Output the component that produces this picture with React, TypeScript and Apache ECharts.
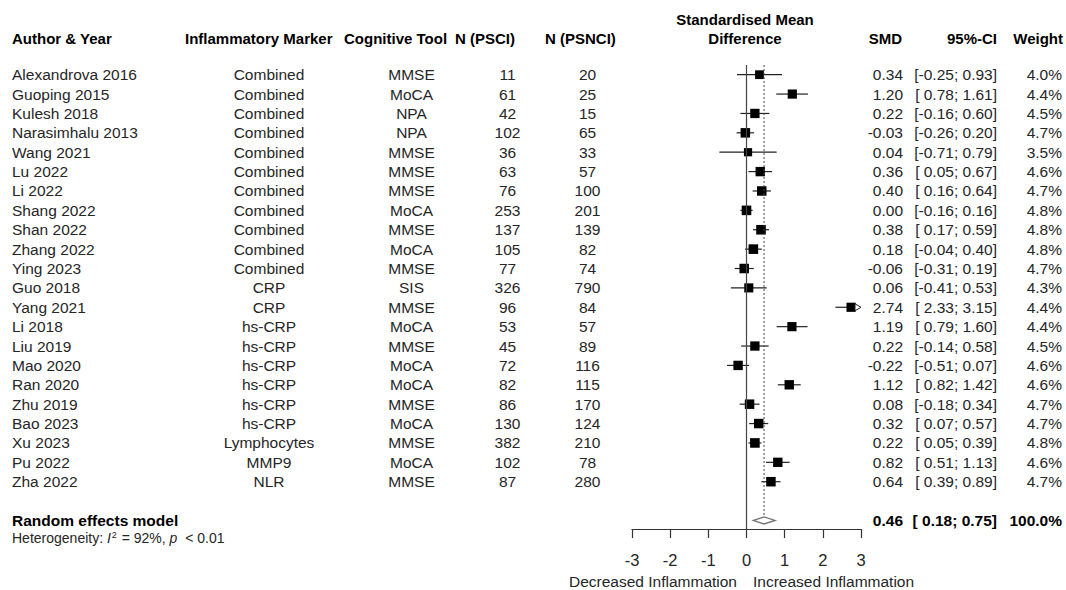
import React, { useEffect, useRef } from 'react';
import * as echarts from 'echarts';

// ---------- data ----------
const authors = [
  'Alexandrova 2016', 'Guoping 2015', 'Kulesh 2018', 'Narasimhalu 2013', 'Wang 2021', 'Lu 2022',
  'Li 2022', 'Shang 2022', 'Shan 2022', 'Zhang 2022', 'Ying 2023', 'Guo 2018', 'Yang 2021',
  'Li 2018', 'Liu 2019', 'Mao 2020', 'Ran 2020', 'Zhu 2019', 'Bao 2023', 'Xu 2023', 'Pu 2022', 'Zha 2022',
];
const markers = [
  'Combined', 'Combined', 'Combined', 'Combined', 'Combined', 'Combined', 'Combined', 'Combined',
  'Combined', 'Combined', 'Combined', 'CRP', 'CRP', 'hs-CRP', 'hs-CRP', 'hs-CRP', 'hs-CRP', 'hs-CRP',
  'hs-CRP', 'Lymphocytes', 'MMP9', 'NLR',
];
const tools = [
  'MMSE', 'MoCA', 'NPA', 'NPA', 'MMSE', 'MMSE', 'MMSE', 'MoCA', 'MMSE', 'MoCA', 'MMSE', 'SIS', 'MMSE',
  'MoCA', 'MMSE', 'MoCA', 'MoCA', 'MMSE', 'MoCA', 'MMSE', 'MoCA', 'MMSE',
];
const nPSCI = [11, 61, 42, 102, 36, 63, 76, 253, 137, 105, 77, 326, 96, 53, 45, 72, 82, 86, 130, 382, 102, 87];
const nPSNCI = [20, 25, 15, 65, 33, 57, 100, 201, 139, 82, 74, 790, 84, 57, 89, 116, 115, 170, 124, 210, 78, 280];
const smd = [0.34, 1.2, 0.22, -0.03, 0.04, 0.36, 0.4, 0.0, 0.38, 0.18, -0.06, 0.06, 2.74, 1.19, 0.22, -0.22, 1.12, 0.08, 0.32, 0.22, 0.82, 0.64];
const ciLow = [-0.25, 0.78, -0.16, -0.26, -0.71, 0.05, 0.16, -0.16, 0.17, -0.04, -0.31, -0.41, 2.33, 0.79, -0.14, -0.51, 0.82, -0.18, 0.07, 0.05, 0.51, 0.39];
const ciHigh = [0.93, 1.61, 0.6, 0.2, 0.79, 0.67, 0.64, 0.16, 0.59, 0.4, 0.19, 0.53, 3.15, 1.6, 0.58, 0.07, 1.42, 0.34, 0.57, 0.39, 1.13, 0.89];
const weights = [4.0, 4.4, 4.5, 4.7, 3.5, 4.6, 4.7, 4.8, 4.8, 4.8, 4.7, 4.3, 4.4, 4.4, 4.5, 4.6, 4.6, 4.7, 4.7, 4.8, 4.6, 4.7];
const pooledLabel = 'Random effects model';
const pooledSMD = 0.46;
const pooledLow = 0.18;
const pooledHigh = 0.75;
const pooledWeight = 100.0;
const heterogeneityI2 = 92;
const heterogeneityP = '< 0.01';
const xMin = -3;
const xMax = 3;
const leftLabel = 'Decreased Inflammation';
const rightLabel = 'Increased Inflammation';

// ---------- layout ----------
const FONT = '"Liberation Sans", Arial, Helvetica, sans-serif';
const ROW_TOP = -0.5;
const ROW_AXIS = 23.44;
const SUMMARY_ROW = authors.length + 1;
const TXT = '#262626';

const fmt = (v: number) => (v < 0 ? v.toFixed(2) : ' ' + v.toFixed(2));
const ciText = (lo: number, hi: number) => `[${fmt(lo)}; ${hi.toFixed(2)}]`;

type Item = { row: number; text: string; bold?: boolean };

function textSeries(name: string, x: number, align: 'left' | 'center' | 'right', items: Item[], size = 15.5) {
  return {
    type: 'custom',
    name,
    xAxisIndex: 1,
    yAxisIndex: 1,
    silent: true,
    data: items.map((it) => [x, it.row]),
    renderItem: (params: any, api: any) => {
      const it = items[params.dataIndex];
      const p = api.coord([api.value(0), api.value(1)]);
      return {
        type: 'text',
        x: p[0],
        y: p[1],
        style: {
          text: it.text,
          font: `${it.bold ? 'bold ' : ''}${size}px ${FONT}`,
          fill: it.bold ? '#000' : TXT,
          align,
          verticalAlign: 'middle',
          textAlign: align,
          textVerticalAlign: 'middle',
        },
      };
    },
  };
}

const rows = authors.map((_, i) => i);

function buildOption() {
  const studyCol = (arr: (string | number)[]): Item[] => rows.map((i) => ({ row: i, text: String(arr[i]) }));

  const series: any[] = [
    // vertical null line
    {
      type: 'line',
      xAxisIndex: 0,
      yAxisIndex: 0,
      data: [[0, ROW_TOP], [0, ROW_AXIS]],
      symbol: 'none',
      silent: true,
      lineStyle: { color: '#444', width: 1.2 },
    },
    // pooled dotted line
    {
      type: 'line',
      xAxisIndex: 0,
      yAxisIndex: 0,
      data: [[pooledSMD, ROW_TOP], [pooledSMD, SUMMARY_ROW - 0.2]],
      symbol: 'none',
      silent: true,
      lineStyle: { color: '#444', width: 1, type: [2, 2] },
    },
    // studies
    {
      type: 'custom',
      xAxisIndex: 0,
      yAxisIndex: 0,
      silent: true,
      data: rows.map((i) => [smd[i], i, ciLow[i], ciHigh[i], weights[i]]),
      encode: { x: [0, 2, 3], y: 1 },
      renderItem: (params: any, api: any) => {
        const x = api.value(0);
        const row = api.value(1);
        const lo = api.value(2);
        const hi = api.value(3);
        const w = api.value(4);
        const pc = api.coord([x, row]);
        const pl = api.coord([Math.max(lo, xMin), row]);
        const ph = api.coord([Math.min(hi, xMax), row]);
        const side = 9.6 * Math.sqrt(w / 4.8);
        const children: any[] = [
          {
            type: 'line',
            shape: { x1: pl[0], y1: pl[1], x2: hi > xMax ? ph[0] - 5 : ph[0], y2: ph[1] },
            style: { stroke: '#222', lineWidth: 1.2 },
          },
          {
            type: 'rect',
            shape: { x: pc[0] - side / 2, y: pc[1] - side / 2, width: side, height: side },
            style: { fill: '#000' },
          },
        ];
        if (hi > xMax) {
          children.push({
            type: 'polygon',
            shape: { points: [[ph[0], ph[1]], [ph[0] - 6, ph[1] - 3.5], [ph[0] - 6, ph[1] + 3.5]] },
            style: { fill: '#fff', stroke: '#222', lineWidth: 1 },
          });
        }
        return { type: 'group', children };
      },
    },
    // pooled diamond
    {
      type: 'custom',
      xAxisIndex: 0,
      yAxisIndex: 0,
      silent: true,
      data: [[pooledSMD, SUMMARY_ROW, pooledLow, pooledHigh]],
      encode: { x: [0, 2, 3], y: 1 },
      renderItem: (params: any, api: any) => {
        const row = api.value(1);
        const c = api.coord([api.value(0), row]);
        const l = api.coord([api.value(2), row]);
        const r = api.coord([api.value(3), row]);
        const h = 3.5;
        return {
          type: 'polygon',
          shape: { points: [[l[0], l[1]], [c[0], c[1] - h], [r[0], r[1]], [c[0], c[1] + h]] },
          style: { fill: '#fff', stroke: '#777', lineWidth: 1.3 },
        };
      },
    },
    textSeries('author', 12, 'left', [
      ...studyCol(authors),
      { row: SUMMARY_ROW, text: pooledLabel, bold: true },
    ]),
    textSeries('marker', 269, 'center', studyCol(markers)),
    textSeries('tool', 411.5, 'center', studyCol(tools)),
    textSeries('npsci', 507.5, 'center', studyCol(nPSCI)),
    textSeries('npsnci', 587.5, 'center', studyCol(nPSNCI)),
    textSeries('smd', 903, 'right', [
      ...rows.map((i) => ({ row: i, text: smd[i].toFixed(2) })),
      { row: SUMMARY_ROW, text: pooledSMD.toFixed(2), bold: true },
    ]),
    textSeries('ci', 997, 'right', [
      ...rows.map((i) => ({ row: i, text: ciText(ciLow[i], ciHigh[i]) })),
      { row: SUMMARY_ROW, text: ciText(pooledLow, pooledHigh), bold: true },
    ]),
    textSeries('weight', 1062, 'right', [
      ...rows.map((i) => ({ row: i, text: weights[i].toFixed(1) + '%' })),
      { row: SUMMARY_ROW, text: pooledWeight.toFixed(1) + '%', bold: true },
    ]),
  ];

  const hdr = (text: string, x: number, y: number, align: string) => ({
    type: 'text',
    x,
    y,
    silent: true,
    style: {
      text,
      font: `bold 15px ${FONT}`,
      fill: '#000',
      align,
      verticalAlign: 'middle',
      textAlign: align,
      textVerticalAlign: 'middle',
    },
  });

  const base = { fontSize: 14, fontFamily: 'Liberation Sans', fill: TXT };

  return {
    animation: false,
    backgroundColor: '#fff',
    grid: [
      { left: 632, width: 229, top: 65, height: 464, containLabel: false },
      { left: 0, width: 1066, top: 65, height: 464, containLabel: false },
    ],
    xAxis: [
      {
        type: 'value',
        gridIndex: 0,
        position: 'bottom',
        min: xMin,
        max: xMax,
        interval: 1,
        axisLine: { show: true, onZero: false, lineStyle: { color: '#333', width: 1.2 } },
        axisTick: { show: true, length: 9, lineStyle: { color: '#333', width: 1.2 } },
        axisLabel: { show: true, margin: 22, fontSize: 16.5, fontFamily: FONT, color: TXT },
        splitLine: { show: false },
      },
      { type: 'value', gridIndex: 1, min: 0, max: 1066, show: false, splitLine: { show: false } },
    ],
    yAxis: [
      { type: 'value', gridIndex: 0, min: ROW_TOP, max: ROW_AXIS, inverse: true, show: false, splitLine: { show: false } },
      { type: 'value', gridIndex: 1, min: ROW_TOP, max: ROW_AXIS, inverse: true, show: false, splitLine: { show: false } },
    ],
    series,
    graphic: [
      hdr('Author & Year', 12, 38, 'left'),
      hdr('Inflammatory Marker', 185, 38, 'left'),
      hdr('Cognitive Tool', 344, 38, 'left'),
      hdr('N (PSCI)', 455, 38, 'left'),
      hdr('N (PSNCI)', 545, 38, 'left'),
      hdr('Standardised Mean', 745, 19.5, 'center'),
      hdr('Difference', 745, 38, 'center'),
      hdr('SMD', 902, 38, 'right'),
      hdr('95%-CI', 997, 38, 'right'),
      hdr('Weight', 1063, 38, 'right'),
      {
        type: 'text',
        x: 12,
        y: 538,
        silent: true,
        style: {
          text: `{a|Heterogeneity: }{i|I}{s|2}{a| = ${heterogeneityI2}%, }{i|p}{a|  ${heterogeneityP}}`,
          ...base,
          verticalAlign: 'middle',
          textVerticalAlign: 'middle',
          rich: {
            a: { ...base },
            i: { ...base, fontStyle: 'italic' },
            s: { ...base, fontSize: 9, verticalAlign: 'top', padding: [0, 1, 6, 1] },
          },
        },
      },
      {
        type: 'text',
        x: 737,
        y: 581,
        silent: true,
        style: {
          text: leftLabel,
          font: `15.5px ${FONT}`,
          fill: TXT,
          align: 'right',
          verticalAlign: 'middle',
          textAlign: 'right',
          textVerticalAlign: 'middle',
        },
      },
      {
        type: 'text',
        x: 753,
        y: 581,
        silent: true,
        style: {
          text: rightLabel,
          font: `15.5px ${FONT}`,
          fill: TXT,
          align: 'left',
          verticalAlign: 'middle',
          textAlign: 'left',
          textVerticalAlign: 'middle',
        },
      },
    ],
  };
}

export default function App() {
  const ref = useRef<HTMLDivElement>(null);
  useEffect(() => {
    if (!ref.current) return;
    const chart = echarts.init(ref.current, undefined, { renderer: 'svg' });
    chart.setOption(buildOption() as any);
    return () => chart.dispose();
  }, []);
  return (
    <div
      ref={ref}
      style={{ position: 'fixed', left: 0, top: 0, width: 1066, height: 590, background: '#fff' }}
    />
  );
}
